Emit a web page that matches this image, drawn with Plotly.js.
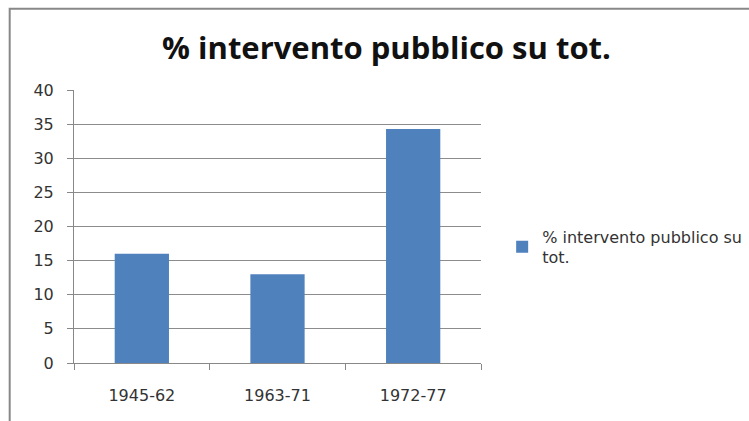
<!DOCTYPE html>
<html>
<head>
<meta charset="utf-8">
<script src="https://cdn.plot.ly/plotly-3.0.1.min.js"></script>
<style>
html,body{margin:0;padding:0;background:#fff;overflow:hidden;}
#chart{width:749px;height:421px;}
</style>
</head>
<body>
<div id="chart"></div>
<script>
const categories = ["1945-62", "1963-71", "1972-77"];
const values = [16.0, 13.0, 34.3];
const seriesName = "% intervento pubblico su<br>tot.";
const titleText = "% intervento pubblico su tot.";
const yTicks = [0, 5, 10, 15, 20, 25, 30, 35, 40];

const trace = {
  type: "bar",
  x: categories,
  y: values,
  name: seriesName,
  marker: {color: "#4F81BD"},
  showlegend: true
};

const layout = {
  width: 749,
  height: 421,
  margin: {l: 74, r: 268, t: 90, b: 58, autoexpand: false},
  paper_bgcolor: "#ffffff",
  plot_bgcolor: "rgba(0,0,0,0)",
  font: {family: "DejaVu Sans, sans-serif", color: "#333"},
  title: {
    text: "<b>" + titleText + "</b>",
    font: {family: "Open Sans, sans-serif", size: 31, color: "#111"},
    x: 0.516, xanchor: "center",
    y: 0.885, yanchor: "middle"
  },
  bargap: 0.6,
  xaxis: {
    type: "category",
    showline: true, linecolor: "#888", linewidth: 1,
    ticks: "outside", tickson: "boundaries", ticklen: 6, tickcolor: "#888",
    tickfont: {family: "DejaVu Sans, sans-serif", size: 16, color: "#333"},
    ticklabelstandoff: 18,
    showgrid: false,
    fixedrange: true
  },
  yaxis: {
    range: [0, 40],
    tickvals: yTicks,
    showline: true, linecolor: "#888", linewidth: 1,
    ticks: "outside", ticklen: 6, tickcolor: "#888",
    tickfont: {family: "DejaVu Sans, sans-serif", size: 16, color: "#333"},
    ticklabelstandoff: 10,
    showgrid: true, gridcolor: "#8c8c8c", gridwidth: 1,
    zeroline: false,
    fixedrange: true
  },
  legend: {
    x: 1.052, xanchor: "left",
    y: 0.425, yanchor: "middle",
    font: {family: "DejaVu Sans, sans-serif", size: 16, color: "#333"},
    itemwidth: 30,
    bgcolor: "rgba(0,0,0,0)"
  },
  shapes: [{
    type: "rect", xref: "paper", yref: "paper",
    x0: -0.158, x1: 2, y0: -1, y1: 1.298,
    line: {color: "#888", width: 2},
    fillcolor: "rgba(0,0,0,0)",
    layer: "below"
  }]
};

Plotly.newPlot("chart", [trace], layout, {displayModeBar: false, staticPlot: true});
</script>
</body>
</html>
